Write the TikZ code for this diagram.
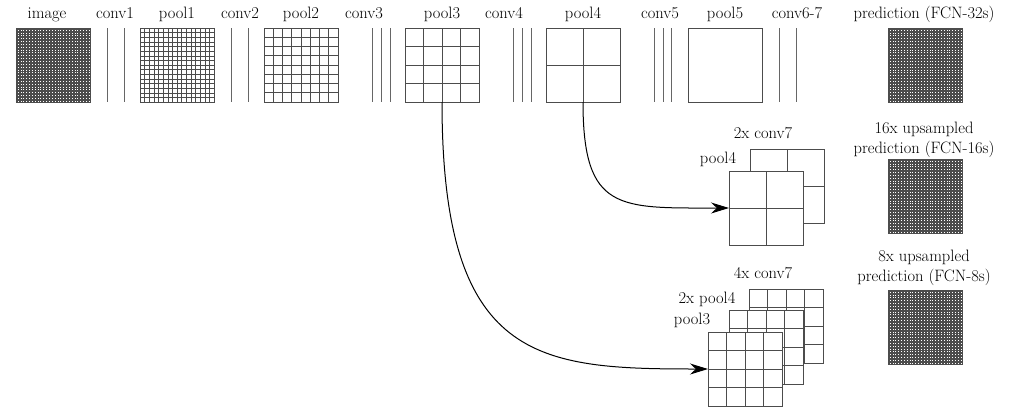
\documentclass[tikz,border=0pt]{standalone}
\usetikzlibrary{arrows.meta,calc}
\newcommand\gsq[5]{%
  \node[sq] (#1) at (#2,#3) {};
  \ifnum#4>1
  \pgfmathtruncatemacro\nn{#4-1}
  \foreach \i in {1,...,\nn}{%
    \draw[gl,line width=#5] ($(#1.north west)!\i/#4!(#1.north east)$) -- ($(#1.south west)!\i/#4!(#1.south east)$);
    \draw[gl,line width=#5] ($(#1.north west)!\i/#4!(#1.south west)$) -- ($(#1.north east)!\i/#4!(#1.south east)$);
  }\fi}
\begin{document}
\begin{tikzpicture}[x=1pt,y=-1pt,
  lab/.style={font=\fontsize{16.5}{19}\selectfont,inner sep=0pt,anchor=base},
  sq/.style={draw=black!70,fill=white,line width=0.8pt,minimum size=74pt,inner sep=0pt,outer sep=0pt,anchor=north west},
  gl/.style={draw=black!70},
  cl/.style={draw=black!60,line width=0.8pt},
  arr/.style={line width=1pt,-{Stealth[length=18pt,width=11pt]}}]
\useasboundingbox (0,0) rectangle (1014,410);
% top row labels
\foreach \t/\x in {image/47,conv1/115,pool1/177,conv2/240,pool2/301,conv3/364,pool3/442,conv4/504,pool4/583,conv5/660,pool5/725,conv6-7/797,prediction (FCN-32s)/924}
  \node[lab] at (\x,18) {\t};
% squares
\gsq{img}{16}{28}{48}{0.3pt}
\gsq{p1}{140}{28}{16}{0.5pt}
\gsq{p2}{264}{28}{8}{0.6pt}
\gsq{p3}{405}{28}{4}{0.7pt}
\gsq{p4}{546}{28}{2}{0.7pt}
\gsq{p5}{688}{28}{1}{0.7pt}
\gsq{pr32}{888}{28}{48}{0.3pt}
% conv lines
\foreach \x in {107,124,231,248,372,381,390,513,522,531,654,663,671,779,796}
  \draw[cl] (\x,28) coordinate (c\x) -- (\x,102);
% FCN-16s
\node[lab] at (924,133) {16x upsampled};
\node[lab] at (924,153) {prediction (FCN-16s)};
\gsq{pr16}{888}{159}{48}{0.3pt}
\node[lab] at (763,138) {2x conv7};
\node[lab] at (718,163) {pool4};
\gsq{c7a}{750}{149}{2}{0.7pt}
\gsq{p4a}{729}{171}{2}{0.7pt}
% FCN-8s
\node[lab] at (924,261) {8x upsampled};
\node[lab] at (924,281) {prediction (FCN-8s)};
\gsq{pr8}{888}{290}{48}{0.3pt}
\node[lab] at (763,278) {4x conv7};
\node[lab] at (707,303) {2x pool4};
\node[lab] at (692,324) {pool3};
\gsq{c7b}{749}{289}{4}{0.7pt}
\gsq{p4b}{729}{310}{4}{0.7pt}
\gsq{p3b}{708}{332}{4}{0.7pt}
% arrows
\draw[arr] (p4.south) .. controls ($(p4.south)+(0,110)$) and ($(p4a.west)+(-110,0)$) .. (p4a.west);
\draw[arr] (p3.south) .. controls ($(p3.south)+(0,260)$) and ($(p3b.west)+(-170,0)$) .. (p3b.west);
\end{tikzpicture}
\end{document}
